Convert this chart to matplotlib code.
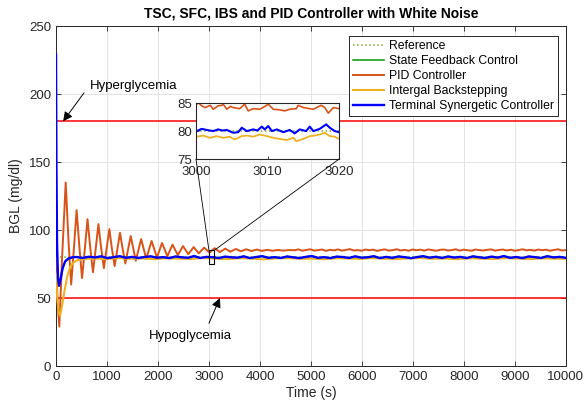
import numpy as np
import matplotlib
matplotlib.use("Agg")
from matplotlib import pyplot as plt
from matplotlib.patches import Rectangle, ConnectionPatch

plt.rcParams['font.family'] = ['Liberation Sans', 'DejaVu Sans']

# ---- data ----
ref_level = 80
hyper_level = 180
hypo_level = 50

# Terminal Synergetic Controller (blue): transient then steady ripple
tsc_t = [0, 8, 20, 40, 60, 90, 130, 180, 240, 320]
tsc_v = [229, 150, 90, 64, 59, 64, 72, 77, 79, 80]
tsc_tail = [80.2, 79.5, 80.4, 79.9, 80.7, 79.4, 80.1, 80.8, 79.6, 80.3,
            79.5, 80.2, 80.7, 79.7, 80.1, 79.4, 80.6, 80.0, 79.6, 80.9,
            79.5, 80.3, 80.1, 79.4, 80.5, 80.0, 79.7, 80.7, 79.4, 80.2,
            80.8, 79.6, 80.1, 79.5, 80.6, 80.0, 79.4, 80.3, 80.9, 79.6,
            80.1, 79.4, 80.5, 80.2, 79.5, 80.7, 79.7, 80.0, 80.8, 79.4,
            80.3, 79.6, 80.6, 80.1, 79.3, 80.2, 80.8, 79.7, 80.4, 79.5,
            80.6, 79.8, 80.3, 79.4, 80.7, 80.0, 79.5, 80.5, 79.8, 80.9,
            79.6, 80.2, 79.4, 80.6, 80.1, 79.5, 80.8, 79.9, 80.3, 79.6]

# State Feedback Control (green) lies underneath the TSC trace
sfc_t = [0, 20, 40, 60, 90, 130, 180, 240, 320]
sfc_v = [80, 75, 64, 59, 64, 72, 77, 79, 80]

# Integral Backstepping (yellow)
ibs_t = [0, 20, 50, 80, 120, 170, 220, 280, 350, 430, 520, 650]
ibs_v = [68, 52, 40, 37, 45, 56, 66, 73, 76.5, 78, 78.7, 79]
ibs_tail = [79.1, 78.7, 79.4, 78.9, 79.2, 78.6, 79.3, 79.0, 78.8, 79.5,
            79.0, 78.7, 79.3, 79.1, 78.5, 79.2, 79.4, 78.9, 79.0, 78.6,
            79.3, 79.1, 78.8, 79.4, 79.0, 78.7, 79.2, 79.5, 78.9, 79.1,
            78.6, 79.3, 79.0, 78.8, 79.4, 79.1, 78.7, 79.2, 79.0, 78.9]

# PID controller (orange): damped oscillation, extremes and mid-crossings
pid_t = [0, 30, 65, 120, 190, 245, 297, 350, 404, 458, 511, 565, 618, 672,
         725, 778, 832, 885, 939, 992, 1046, 1098, 1150, 1203, 1255, 1308,
         1360, 1465, 1565, 1670, 1770, 1875, 1980, 2080, 2185,
         2285, 2390, 2490, 2595, 2700, 2800, 2905, 3010, 3110, 3215, 3320,
         3420, 3525, 3630, 3730, 3835, 3940, 4040, 4145, 4250, 4350, 4455,
         4560]
pid_v = [80, 48, 29, 80, 135, 92, 60, 86, 114.7, 88, 64.7, 86, 108, 87,
         69, 86, 104.4, 87, 72, 86, 100.7, 86, 73.5, 86, 98, 86,
         75.5, 95.6, 77.5, 93.4, 78.8, 92, 79.8, 90.5, 80.8,
         89.3, 81.6, 88.2, 82.3, 87.5, 82.9, 87.1, 83.4, 86.7, 83.8, 86.4,
         84.1, 86.1, 84.4, 85.9, 84.6, 85.7, 84.7, 85.5, 84.8, 85.4, 84.9,
         85.3]
pid_tail = [85.2, 85.8, 84.8, 85.4, 85.9, 84.9, 85.3, 85.7, 84.7, 85.5,
            85.1, 85.8, 84.9, 85.4, 86.0, 85.0, 85.3, 84.8, 85.7, 85.2,
            85.6, 84.7, 85.4, 85.8, 84.9, 85.3, 85.9, 85.0, 85.5, 84.8,
            85.7, 85.2, 85.6, 84.9, 85.8, 85.3, 84.8, 85.5, 85.7, 85.0,
            85.3, 85.9, 84.9, 85.6, 85.2, 84.8, 85.7, 85.3, 85.0, 85.5,
            85.8, 84.9, 85.4, 85.7, 85.0, 85.6, 84.8, 85.3, 85.9, 85.1,
            85.5, 84.9, 85.7, 85.2, 85.6, 84.8, 85.4, 85.9, 85.0, 85.3]

# zoom window 3000-3020 s
zoom_pid_t = [3000.1, 3000.3, 3000.8, 3001.3, 3002.0, 3002.4, 3003.1, 3003.6,
              3003.8, 3004.3, 3004.8, 3005.2, 3006.1, 3006.8, 3007.3, 3008.0,
              3008.9, 3009.5, 3010.1, 3010.8, 3011.7, 3012.4, 3013.1, 3014.0,
              3014.3, 3015.0, 3015.9, 3016.4, 3017.5, 3018.0, 3018.5, 3019.2,
              3020.0]
zoom_pid_v = [84.8, 85.1, 84.5, 84.2, 84.6, 83.9, 84.5, 84.6, 84.8, 83.9,
              84.4, 84.2, 84.0, 84.8, 83.6, 84.0, 83.9, 84.3, 84.8, 83.9,
              83.8, 83.6, 83.9, 84.0, 84.6, 84.2, 84.0, 83.9, 84.6, 84.2,
              83.2, 84.2, 84.0]
zoom_tsc_t = [3000.1, 3000.8, 3001.5, 3002.4, 3003.1, 3003.7, 3004.3, 3005.2,
              3005.9, 3006.4, 3007.1, 3008.0, 3008.6, 3009.2, 3009.6, 3010.1,
              3010.6, 3011.3, 3012.2, 3013.1, 3013.8, 3014.5, 3015.4, 3015.9,
              3016.4, 3017.3, 3018.2, 3018.7, 3019.4, 3020.0]
zoom_tsc_v = [80.0, 80.4, 80.2, 80.0, 80.3, 80.1, 80.2, 79.7, 79.8, 80.6,
              80.0, 80.3, 80.1, 80.8, 80.3, 80.9, 80.0, 80.3, 79.8, 80.2,
              79.6, 80.3, 80.0, 80.8, 80.0, 80.4, 81.2, 80.6, 80.0, 79.8]
zoom_ibs_t = [3000.1, 3001.0, 3002.0, 3002.9, 3003.8, 3004.7, 3005.4, 3006.4,
              3007.1, 3008.0, 3008.9, 3009.9, 3010.8, 3011.7, 3012.7, 3013.6,
              3014.0, 3015.0, 3015.9, 3016.6, 3017.3, 3018.0, 3018.7, 3019.4,
              3020.0]
zoom_ibs_v = [79.0, 79.2, 78.8, 79.1, 78.8, 79.0, 78.5, 79.1, 79.2, 79.0,
              79.4, 79.1, 78.8, 78.6, 78.4, 78.8, 78.2, 78.6, 79.1, 79.2,
              79.4, 79.7, 79.1, 79.0, 78.6]

c_ref = (0.47, 0.67, 0.19)
c_sfc = (0.0, 0.6, 0.0)
c_pid = (0.85, 0.325, 0.098)
c_ibs = (0.929, 0.694, 0.125)
c_tsc = (0.0, 0.0, 1.0)
c_axis = '#262626'

tsc_full_t = np.concatenate([tsc_t, np.linspace(400, 10000, len(tsc_tail))])
tsc_full_v = np.concatenate([tsc_v, tsc_tail])
sfc_full_t = np.concatenate([sfc_t, np.linspace(400, 10000, len(tsc_tail))])
sfc_full_v = np.concatenate([sfc_v, tsc_tail])
ibs_full_t = np.concatenate([ibs_t, np.linspace(750, 10000, len(ibs_tail))])
ibs_full_v = np.concatenate([ibs_v, ibs_tail])
pid_full_t = np.concatenate([pid_t, np.linspace(4680, 10000, len(pid_tail))])
pid_full_v = np.concatenate([pid_v, pid_tail])

fig = plt.figure(figsize=(5.84, 4.09), dpi=100)
ax = fig.add_axes([0.0959, 0.105, 0.873, 0.831])

ax.axhline(hyper_level, color='r', lw=1.1, zorder=1)
ax.axhline(hypo_level, color='r', lw=1.1, zorder=1)
ax.plot([0, 10000], [ref_level, ref_level], ':', color=c_ref, lw=1.1, label='Reference', zorder=2)
ax.plot(sfc_full_t, sfc_full_v, color=c_sfc, lw=1.1, label='State Feedback Control', zorder=2)
ax.plot(pid_full_t, pid_full_v, color=c_pid, lw=1.4, label='PID Controller', zorder=3)
ax.plot(ibs_full_t, ibs_full_v, color=c_ibs, lw=1.5, label='Intergal Backstepping', zorder=3)
ax.plot(tsc_full_t, tsc_full_v, color=c_tsc, lw=1.7, label='Terminal Synergetic Controller', zorder=4)

ax.set_xlim(0, 10000)
ax.set_ylim(0, 250)
ax.set_xticks(np.arange(0, 10001, 1000))
ax.set_yticks(np.arange(0, 251, 50))
ax.grid(True, color='#dedede', lw=0.6)
ax.set_axisbelow(True)
ax.tick_params(direction='in', top=True, right=True, length=3.5, width=0.6,
               labelsize=9.5, colors=c_axis)
for s in ax.spines.values():
    s.set_color(c_axis)
    s.set_linewidth(0.7)
ax.set_xlabel('Time (s)', fontsize=10, color=c_axis, labelpad=2)
ax.set_ylabel('BGL (mg/dl)', fontsize=10, color=c_axis, labelpad=4)
ax.set_title('TSC, SFC, IBS and PID Controller with White Noise',
             fontsize=10, fontweight='bold', pad=6)

leg = ax.legend(loc='upper right', bbox_to_anchor=(0.985, 0.972), fontsize=8.8,
                fancybox=False, framealpha=1, edgecolor=c_axis, handlelength=2.5,
                labelspacing=0.25, borderpad=0.35, handletextpad=0.4, borderaxespad=0)
leg.get_frame().set_linewidth(0.7)

arrow = dict(arrowstyle='-|>', color='k', lw=0.7, mutation_scale=14, shrinkA=0, shrinkB=0)
ax.annotate('', xy=(140, hyper_level), xytext=(550, 201), arrowprops=arrow, zorder=6)
ax.text(660, 206, 'Hyperglycemia', fontsize=9.5, ha='left', va='center')
ax.annotate('', xy=(3215, hypo_level), xytext=(3000, 31.5), arrowprops=arrow, zorder=6)
ax.text(2630, 22, 'Hypoglycemia', fontsize=9.5, ha='center', va='center')

ax.add_patch(Rectangle((3000, 75), 100, 10, fill=False, ec='k', lw=0.8, zorder=6))

# inset
axi = fig.add_axes([0.3356, 0.611, 0.245, 0.137])
axi.plot([3000, 3020], [ref_level, ref_level], ':', color=c_ref, lw=1.1)
axi.plot(zoom_pid_t, zoom_pid_v, color=c_pid, lw=1.2)
axi.plot(zoom_ibs_t, zoom_ibs_v, color=c_ibs, lw=1.3)
axi.plot(zoom_tsc_t, zoom_tsc_v, color=c_tsc, lw=1.5)
axi.set_xlim(3000, 3020)
axi.set_ylim(75, 85)
axi.set_xticks([3000, 3010, 3020])
axi.set_yticks([75, 80, 85])
axi.tick_params(direction='in', length=2, width=0.6, labelsize=9.5, colors=c_axis)
axi.tick_params(axis='x', pad=5)
axi.tick_params(axis='y', pad=3)
for s in axi.spines.values():
    s.set_color(c_axis)
    s.set_linewidth(0.8)

for xa, xb in [(3000, 3000), (3020, 3100)]:
    con = ConnectionPatch(xyA=(xa, 75), coordsA=axi.transData,
                          xyB=(xb, 85), coordsB=ax.transData,
                          color='k', lw=0.6)
    fig.add_artist(con)

fig.savefig('out.png', dpi=100)
